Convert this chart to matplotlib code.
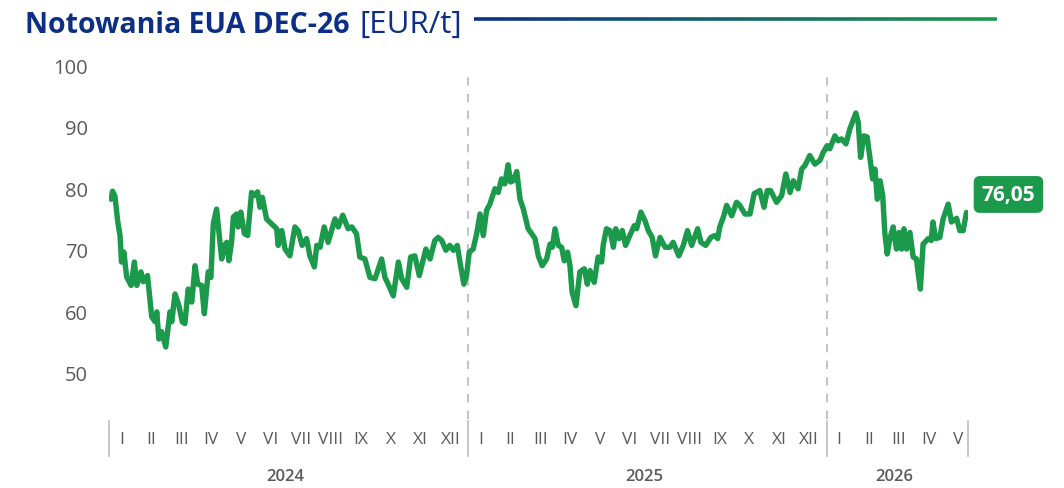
import numpy as np
import matplotlib
matplotlib.use("Agg")
import matplotlib.pyplot as plt
from matplotlib.collections import LineCollection
from matplotlib.transforms import blended_transform_factory

# time in months since 1 Jan 2024, price in EUR/t
months = [0.07, 0.12, 0.20, 0.29, 0.37, 0.42, 0.50, 0.59, 0.74, 0.85, 0.93, 1.07, 1.15, 1.29,
          1.43, 1.54, 1.60, 1.67, 1.76, 1.90, 2.04, 2.10, 2.21, 2.34, 2.45, 2.54, 2.65, 2.77,
          2.88, 2.97, 3.10, 3.19, 3.32, 3.41, 3.49, 3.60, 3.68, 3.77, 3.86, 3.94, 4.01, 4.10,
          4.16, 4.27, 4.32, 4.41, 4.53, 4.64, 4.77, 4.88, 4.97, 5.05, 5.13, 5.27, 5.44, 5.61,
          5.66, 5.78, 5.89, 6.05, 6.22, 6.33, 6.46, 6.61, 6.72, 6.87, 6.95, 7.06, 7.20, 7.33,
          7.56, 7.67, 7.82, 8.00, 8.12, 8.28, 8.39, 8.56, 8.73, 8.90, 9.12, 9.23, 9.34, 9.51,
          9.68, 9.79, 9.96, 10.09, 10.23, 10.38, 10.60, 10.74, 10.90, 11.01, 11.13, 11.27,
          11.40, 11.52, 11.65, 11.74, 11.87, 11.96, 12.05, 12.18, 12.30, 12.41, 12.52, 12.63,
          12.74, 12.91, 13.02, 13.13, 13.24, 13.35, 13.43, 13.52, 13.64, 13.75, 13.86, 14.02,
          14.14, 14.25, 14.36, 14.49, 14.64, 14.75, 14.83, 14.92, 15.03, 15.14, 15.23, 15.34,
          15.42, 15.49, 15.62, 15.75, 15.90, 16.00, 16.09, 16.23, 16.36, 16.48, 16.53, 16.64,
          16.76, 16.87, 16.95, 17.06, 17.17, 17.28, 17.42, 17.57, 17.65, 17.79, 17.93, 18.04,
          18.17, 18.28, 18.43, 18.60, 18.76, 18.87, 19.06, 19.21, 19.35, 19.49, 19.69, 19.80,
          19.96, 20.13, 20.27, 20.36, 20.43, 20.55, 20.66, 20.83, 20.99, 21.10, 21.27, 21.44,
          21.58, 21.77, 21.91, 22.02, 22.13, 22.33, 22.50, 22.64, 22.78, 22.89, 23.05, 23.17,
          23.28, 23.44, 23.61, 23.78, 23.89, 24.02, 24.11, 24.28, 24.39, 24.50, 24.65, 24.78,
          24.98, 25.06, 25.14, 25.25, 25.36, 25.45, 25.54, 25.62, 25.70, 25.79, 25.88, 25.95,
          26.03, 26.12, 26.23, 26.34, 26.43, 26.51, 26.59, 26.68, 26.79, 26.90, 27.01, 27.06,
          27.14, 27.23, 27.40, 27.50, 27.56, 27.65, 27.79, 27.90, 28.07, 28.18, 28.35, 28.46,
          28.57, 28.68]
prices = [78.2, 79.5, 78.7, 74.7, 72.3, 68.0, 69.6, 65.6, 64.2, 68.0, 64.2, 66.4, 64.8, 65.8,
          59.1, 58.3, 59.9, 55.5, 56.7, 54.2, 59.9, 58.3, 62.8, 60.9, 58.3, 58.0, 63.6, 61.5,
          67.4, 64.4, 64.2, 59.6, 66.4, 65.5, 74.2, 76.6, 72.8, 68.5, 70.7, 71.2, 68.2, 71.2,
          75.3, 75.8, 73.7, 76.1, 72.6, 72.3, 79.3, 78.8, 79.4, 76.9, 78.5, 75.0, 74.2, 73.4,
          70.7, 73.1, 70.1, 69.0, 73.7, 73.1, 70.7, 71.8, 69.0, 67.2, 70.7, 70.4, 73.7, 71.2,
          75.0, 73.7, 75.6, 73.4, 73.7, 72.6, 68.8, 68.5, 65.5, 65.3, 68.5, 65.5, 64.4, 62.5,
          68.0, 65.3, 63.9, 68.8, 69.0, 65.8, 70.1, 68.5, 71.5, 72.0, 71.5, 69.9,
          70.7, 69.9, 70.7, 68.0, 64.4, 65.8, 69.6, 70.1, 72.6, 75.8, 72.3, 76.4,
          77.4, 79.9, 79.3, 81.5, 80.7, 83.8, 81.0, 81.2, 82.7, 78.2, 76.6, 73.4,
          72.6, 71.8, 69.0, 67.4, 68.5, 70.9, 70.4, 73.4, 70.7, 70.4, 68.2, 69.6,
          67.4, 63.1, 60.9, 66.4, 66.9, 64.4, 66.6, 64.7, 68.8, 68.0, 70.7, 73.4,
          73.1, 70.4, 73.4, 71.8, 73.1, 70.7, 72.3, 73.9, 73.4, 76.1, 74.7, 73.1,
          72.0, 69.0, 72.0, 70.4, 70.4, 71.2, 69.0, 70.7, 73.1, 70.7, 73.4, 71.2,
          70.7, 72.0, 72.3, 71.8, 73.7, 75.3, 77.2, 75.5, 77.7, 77.2, 75.8, 75.8,
          79.1, 79.6, 76.9, 79.6, 79.6, 77.7, 78.8, 82.3, 79.3, 81.2, 79.9, 83.1,
          83.7, 85.3, 83.9, 84.5, 85.8, 86.9, 86.4, 88.5, 87.7, 88.0, 87.2, 89.6,
          92.2, 90.7, 85.0, 88.5, 88.3, 85.0, 81.5, 83.1, 78.2, 81.2, 78.8, 72.8,
          69.3, 71.8, 73.7, 70.1, 72.8, 70.1, 73.4, 70.1, 72.8, 68.8, 68.5, 66.4,
          63.6, 70.9, 71.8, 71.5, 74.5, 71.8, 72.0, 75.0, 77.4, 74.5, 75.1, 73.1,
          73.1, 76.05]
last_label = "76,05"

years = ["2024", "2025", "2026"]
months_per_year = [12, 12, 5]
roman = ["I", "II", "III", "IV", "V", "VI", "VII", "VIII", "IX", "X", "XI", "XII"]
yticks = [50, 60, 70, 80, 90, 100]

GREEN = "#1b9a4b"
NAVY = "#0c2f85"
GREY = "#5a5a5a"

plt.rcParams["font.family"] = ["Open Sans", "DejaVu Sans"]

fig = plt.figure(figsize=(10.64, 4.89), dpi=100)
ax = fig.add_axes([0.1024, 0.1411, 0.8073, 0.7239])

x_end = months[-1] + 0.05
ax.plot(months, prices, color=GREEN, lw=3.9, solid_joinstyle="round", solid_capstyle="round", zorder=3)
ax.set_xlim(0, x_end)
ax.set_ylim(42.5, 100)

for s in ax.spines.values():
    s.set_visible(False)
ax.set_xticks([])
ax.set_yticks(yticks)
ax.tick_params(axis="y", length=0, pad=15, labelsize=14.5, labelcolor=GREY)

# year boundaries
for b in [12, 24]:
    ax.plot([b, b], [42.5, 98.5], color="#c4c4c4", lw=1.5, ls=(0, (4, 4)), zorder=1)

trans = blended_transform_factory(ax.transData, ax.transAxes)
start = 0
for yr, n in zip(years, months_per_year):
    for i in range(n):
        ax.text(start + i + 0.42, -0.057, roman[i], transform=trans, ha="center", va="center",
                fontsize=12.5, color=GREY)
    ax.plot([start, start], [-0.006, -0.105], transform=trans, color="#bdbdbd", lw=1.2, clip_on=False)
    ax.text((start + min(start + n, x_end)) / 2 - 0.1, -0.162, yr, transform=trans, ha="center",
            va="center", fontsize=12, color=GREY, fontweight="semibold")
    start += n
ax.plot([x_end, x_end], [-0.006, -0.105], transform=trans, color="#bdbdbd", lw=1.2, clip_on=False)

ax.annotate(last_label, (months[-1], prices[-1]), xytext=(42, 18), textcoords="offset pixels",
            ha="center", va="center", fontsize=15, fontweight="bold", color="white",
            bbox=dict(boxstyle="round,pad=0.38,rounding_size=0.3", fc=GREEN, ec="none"),
            annotation_clip=False)

# title
t1 = fig.text(25 / 1064, 1 - 33 / 489, "Notowania EUA DEC-26", fontsize=20.5, fontweight="bold",
              color=NAVY, ha="left", va="baseline")
fig.canvas.draw()
r = fig.canvas.get_renderer()
bb = t1.get_window_extent(r)
t2 = fig.text((bb.x1 + 10) / 1064, 1 - 33 / 489, "[EUR/t]", fontsize=22.5, color=NAVY,
              ha="left", va="baseline")
bb2 = t2.get_window_extent(r)

x0 = (bb2.x1 + 12) / 1064
x1 = 997 / 1064
yl = 1 - 20 / 489
xs = np.linspace(x0, x1, 200)
segs = [[(xs[i], yl), (xs[i + 1], yl)] for i in range(len(xs) - 1)]
cmap = matplotlib.colors.LinearSegmentedColormap.from_list("g", [NAVY, GREEN])
lc = LineCollection(segs, colors=cmap(np.linspace(0, 1, len(segs))), linewidths=2.6,
                    transform=fig.transFigure)
fig.add_artist(lc)

fig.savefig("out.png", dpi=100)
